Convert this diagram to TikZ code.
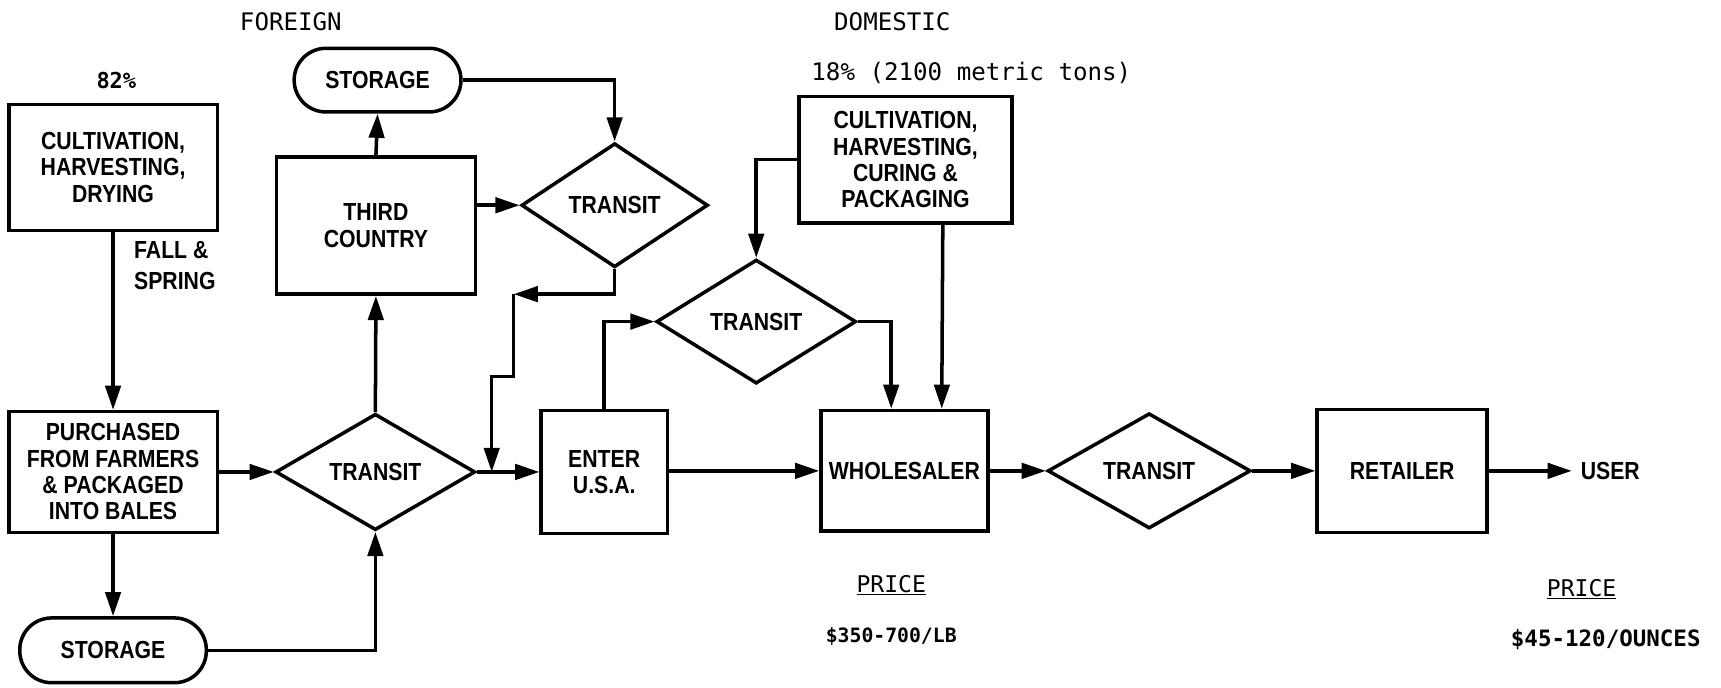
\documentclass[tikz,border=0pt]{standalone}
\usepackage{fontspec}
\usetikzlibrary{shapes.geometric,arrows.meta}
\newfontfamily\lblfont{Liberation Sans}[FakeStretch=0.86]
\newfontfamily\mymono{DejaVu Sans Mono}
\begin{document}
\begin{tikzpicture}[x=1pt,y=-1pt,
  arr/.style={line width=3.2pt,-{Triangle[length=22pt,width=14pt]}},
  lbl/.style={font=\lblfont\bfseries\fontsize{22.5}{24}\selectfont,align=center},
  mtxt/.style={font=\mymono\fontsize{22}{26}\selectfont,inner sep=0pt},
  box/.style={draw,line width=3.2pt,rectangle,inner sep=0pt,lbl},
  dia/.style={draw,diamond,line width=3.2pt,inner sep=0pt,lbl},
  stor/.style={draw,line width=3.2pt,rectangle,rounded corners=29pt,inner sep=0pt,lbl}]
\useasboundingbox (0,0) rectangle (1568,626);
% texts
\node[mtxt] (foreign) at (265,20) {FOREIGN};
\node[mtxt,font=\mymono\bfseries\fontsize{20}{26}\selectfont] (p82) at (106,73) {82\%};
\node[mtxt] (domestic) at (813,20) {DOMESTIC};
\node[mtxt] (p18) at (885,66) {18\% (2100 metric tons)};
\node[lbl,anchor=west,align=left,font=\lblfont\bfseries\fontsize{22.5}{29}\selectfont,inner sep=0pt] (fall) at (122,242) {FALL \&\\SPRING};
\node[mtxt,font=\mymono\fontsize{21}{24}\selectfont] (price1) at (812,533) {\underline{PRICE}};
\node[mtxt,font=\mymono\bfseries\fontsize{18}{24}\selectfont] (val1) at (812,580) {\$350-700/LB};
\node[mtxt,font=\mymono\fontsize{21}{24}\selectfont] (price2) at (1441,537) {\underline{PRICE}};
\node[mtxt,font=\mymono\bfseries\fontsize{20.5}{24}\selectfont] (val2) at (1463,583) {\$45-120/OUNCES};
% boxes
\node[box,minimum width=190pt,minimum height=115pt] (c1) at (103,152.5) {CULTIVATION,\\HARVESTING,\\DRYING};
\node[box,minimum width=190pt,minimum height=110pt] (pur) at (103,430) {PURCHASED\\FROM FARMERS\\\& PACKAGED\\INTO BALES};
\node[stor,minimum width=170pt,minimum height=59pt] (sb) at (103,592.5) {STORAGE};
\node[stor,minimum width=152pt,minimum height=58pt] (st) at (344,73) {STORAGE};
\node[box,minimum width=181pt,minimum height=125pt] (tc) at (342.5,205.5) {THIRD\\COUNTRY};
\node[dia,minimum width=182pt,minimum height=106pt] (t1) at (342,430) {TRANSIT};
\node[dia,minimum width=170pt,minimum height=113pt] (t2) at (560,187) {TRANSIT};
\node[box,minimum width=115pt,minimum height=112pt] (en) at (550.5,430) {ENTER\\U.S.A.};
\node[dia,minimum width=182pt,minimum height=113pt] (t3) at (689,293) {TRANSIT};
\node[box,minimum width=194pt,minimum height=115pt] (c2) at (825,145.5) {CULTIVATION,\\HARVESTING,\\CURING \&\\PACKAGING};
\node[box,minimum width=152pt,minimum height=110pt] (wh) at (824,429) {WHOLESALER};
\node[dia,minimum width=185pt,minimum height=105pt] (t4) at (1047,429) {TRANSIT};
\node[box,minimum width=155pt,minimum height=112pt] (rt) at (1277.5,429) {RETAILER};
\node[lbl,anchor=west,inner sep=8pt] (user) at (1432,429) {USER};
% connectors
\draw[arr] (c1.south) -- (pur.north);
\draw[arr] (pur.south) -- (sb.north);
\draw[arr] (sb.east) -| (t1.south);
\draw[arr] (pur.east) -- (t1.west);
\draw[arr] (t1.north) -- (tc.south);
\draw[arr] (tc.north) -- (st.south);
\draw[arr] (tc.east |- t2.west) -- (t2.west);
\draw[arr] (st.east) -| (t2.north);
\coordinate (k1) at (468,268);
\coordinate (k2) at (448,343);
\draw[arr] (t2.south) |- (k1);
\draw[arr] (k1) -- (k1 |- k2) -- (k2) -- (k2 |- t1.east);
\draw[arr] (t1.east) -- (en.west);
\draw[arr] (en.north) |- (t3.west);
\draw[arr] (t3.east) -| ([xshift=-12pt]wh.north);
\draw[arr] (c2.west) -| (t3.north);
\draw[arr] ([xshift=34pt]c2.south) -- ([xshift=34pt]wh.north);
\draw[arr] (en.east |- wh.west) -- (wh.west);
\draw[arr] (wh.east) -- (t4.west);
\draw[arr] (t4.east) -- (rt.west);
\draw[arr] (rt.east) -- (user.west);
\end{tikzpicture}
\end{document}
